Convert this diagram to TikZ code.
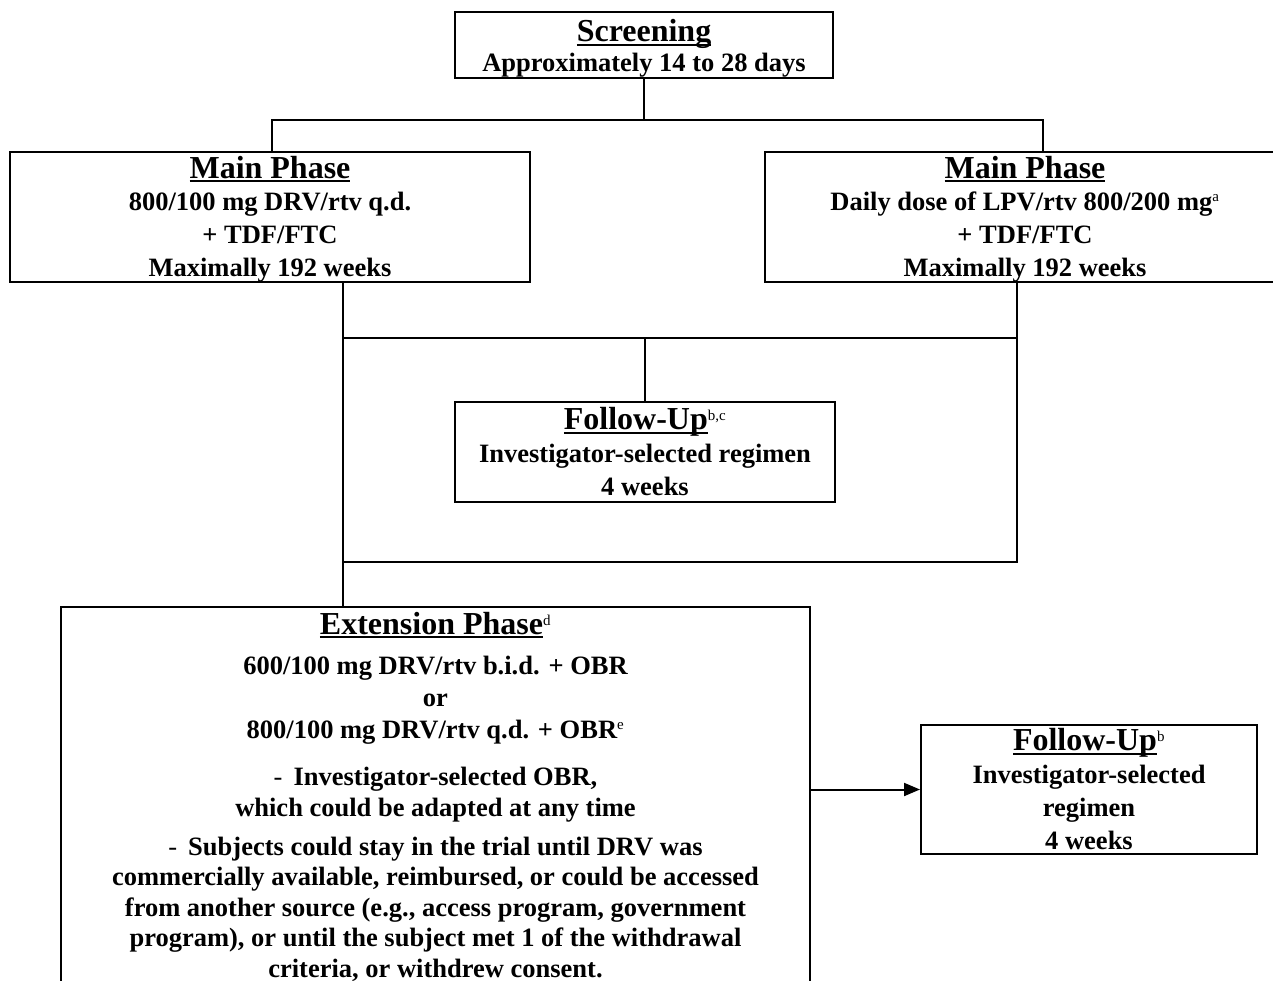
\documentclass[tikz,border=0pt]{standalone}
\usepackage{fontspec}
\setmainfont{Liberation Serif}
\usetikzlibrary{arrows.meta}
\newcommand\ttl[1]{{\fontsize{32}{33}\selectfont\setbox0\hbox{#1}\rlap{\rule[-4pt]{\wd0}{2pt}}\box0}}
\newcommand\sps[1]{\textsuperscript{\fontsize{15}{15}\selectfont\mdseries #1}}
\tikzset{
  box/.style={draw, line width=2pt, rectangle, inner sep=0pt, align=center,
    font=\fontsize{26.5}{33}\selectfont\bfseries},
  txt/.style={inner sep=0pt, align=center, font=\fontsize{26.5}{32}\selectfont\bfseries},
  conn/.style={line width=2pt},
}
\begin{document}
\begin{tikzpicture}[x=1pt,y=-1pt]
\useasboundingbox (0,0) rectangle (1273,981);
\node[box, minimum width=378pt, minimum height=66pt] (scr) at (644,45)
  {\rule{0pt}{29pt}\ttl{Screening}\\[-3pt]Approximately 14 to 28 days};
\node[box, minimum width=520pt, minimum height=130pt] (mainL) at (270,217)
  {\rule{0pt}{26pt}\ttl{Main Phase}\\[-1pt]800/100 mg DRV/rtv q.d.\\+ TDF/FTC\\Maximally 192 weeks};
\node[box, minimum width=520pt, minimum height=130pt] (mainR) at (1025,217)
  {\rule{0pt}{26pt}\ttl{Main Phase}\\[-1pt]Daily dose of LPV/rtv 800/200 mg\sps{a}\\+ TDF/FTC\\Maximally 192 weeks};
\node[box, minimum width=380pt, minimum height=100pt] (fu1) at (645,452)
  {\ttl{Follow-Up}\sps{b,c}\\Investigator-selected regimen\\4 weeks};
\node[box, minimum width=336pt, minimum height=129pt] (fu2) at (1089,789.5)
  {\ttl{Follow-Up}\sps{b}\\Investigator-selected\\regimen\\4 weeks};
\node[box, minimum width=749pt, minimum height=420pt, anchor=north] (ext) at (435.5,606) {};
\node[txt, anchor=north, yshift=-6pt] (extT) at (ext.north)
  {\ttl{Extension Phase}\sps{d}\\[8pt]
   600/100 mg DRV/rtv b.i.d. + OBR\\
   or\\
   800/100 mg DRV/rtv q.d. + OBR\sps{e}\\[15pt]
   {\mdseries -}\, Investigator-selected OBR,\\[-1pt]
   which could be adapted at any time\\[7pt]
   {\mdseries -}\, Subjects could stay in the trial until DRV was\\[-1.5pt]
   commercially available, reimbursed, or could be accessed\\[-1.5pt]
   from another source (e.g., access program, government\\[-1.5pt]
   program), or until the subject met 1 of the withdrawal\\[-1.5pt]
   criteria, or withdrew consent.};
\coordinate (jl) at (272,120);
\coordinate (jr) at (1043,120);
\coordinate (xl) at (343,338);
\coordinate (xr) at (1017,338);
\coordinate (yb) at (0,562);
\draw[conn] (scr.south) -- (scr.south |- jl);
\draw[conn] (jl |- mainL.north) -- (jl) -- (jr) -- (jr |- mainR.north);
\draw[conn] (mainL.south -| xl) -- (ext.north -| xl);
\draw[conn] (mainR.south -| xr) -- (xr |- yb) -- (xl |- yb);
\draw[conn] (xl) -- (xr);
\draw[conn] (fu1.north) -- (fu1.north |- xl);
\draw[conn, -{Triangle[length=16pt,width=13pt]}] (ext.east |- fu2.west) -- (fu2.west);
\end{tikzpicture}
\end{document}
